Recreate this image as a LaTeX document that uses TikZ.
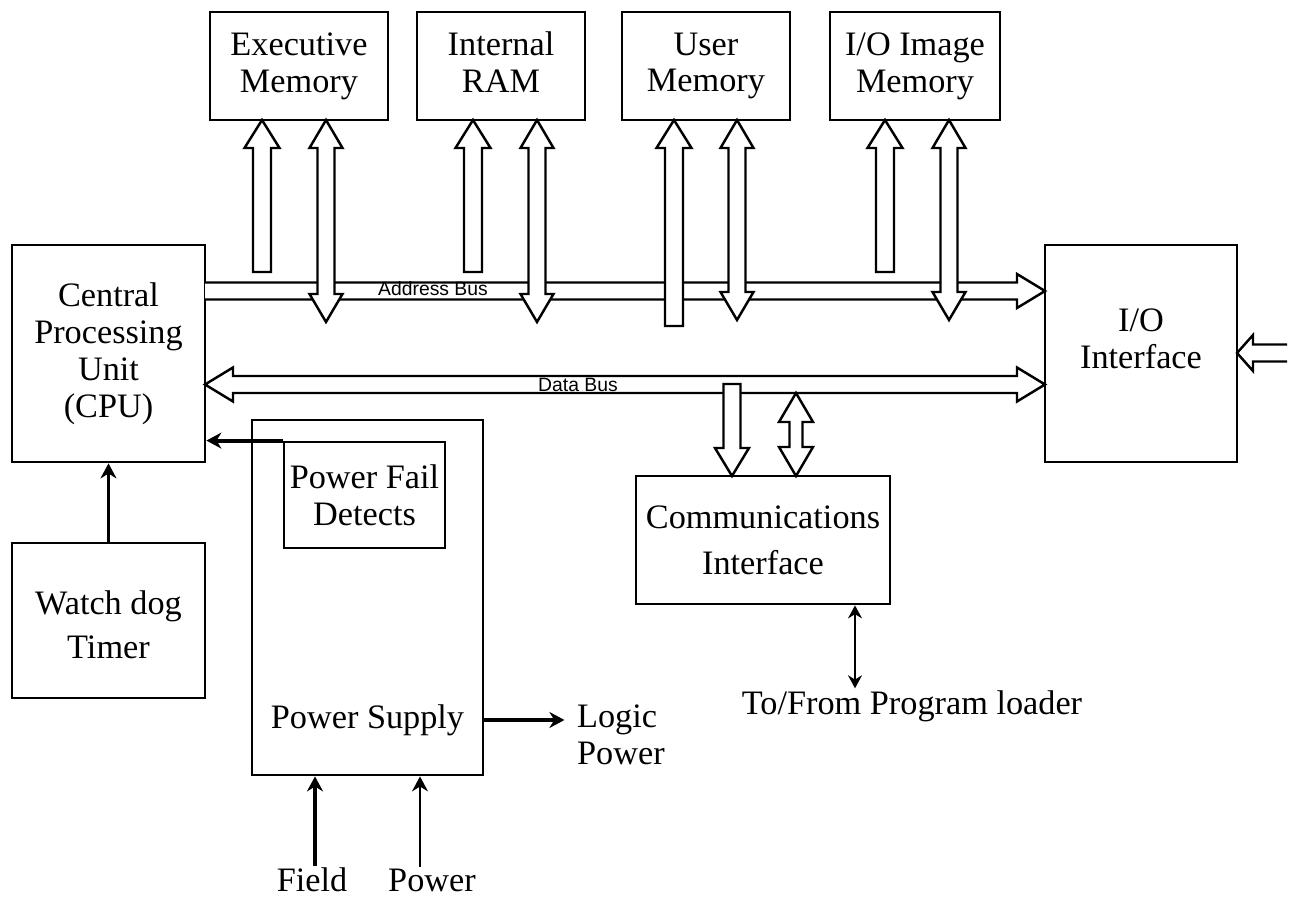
\documentclass[tikz,border=0pt]{standalone}
\usepackage{fontspec}
\setmainfont{Liberation Serif}
\newfontfamily\busfont{Liberation Sans}
\usetikzlibrary{arrows.meta,positioning,calc}

\begin{document}
\begin{tikzpicture} [x=0.2mm,y=-0.2mm,{box/.style={rectangle,draw=black,line width=1.6pt,align=center,inner sep=0pt,font=\fontsize{19.5}{21}\selectfont}},{txt/.style={align=center,inner sep=1pt,font=\fontsize{19.5}{21}\selectfont}},{fat/.style={draw=black,fill=white,line width=1.4pt,line join=miter}},{buslbl/.style={inner sep=0pt,font=\busfont\fontsize{11}{11}\selectfont}},{arr/.style={-{Stealth[length=3mm,width=3.2mm]},line width=2.2pt}}]
		\useasboundingbox (0,0) rectangle (1303,898);
		%%memory blocks
		\node at (299,66) [box,minimum width=35.6mm,minimum height=21.6mm] (exec) {Executive\\Memory};
		\node at (501,66) [box,minimum width=33.6mm,minimum height=21.6mm] (iram) {Internal\\RAM\vphantom{y}};
		\node at (706,66) [box,minimum width=33.6mm,minimum height=21.6mm] (umem) {User\\Memory};
		\node at (915,66) [box,minimum width=34mm,minimum height=21.6mm] (iomem) {I/O Image\\Memory};
		%%main blocks
		\node at (108.5,353.5) [box,minimum width=38.6mm,minimum height=43.4mm] (cpu) {Central\\Processing\\Unit\\(CPU)};
		\node at (1141,353.5) [box,minimum width=38.4mm,minimum height=43.4mm] (ioif) {};
		\node at (108.5,620.5) [box,minimum width=38.6mm,minimum height=31mm] (wdt) {};
		\node at (367.5,597.5) [box,minimum width=46.2mm,minimum height=71mm] (psu) {};
		\node at (364.5,495) [box,minimum width=32.2mm,minimum height=21.2mm] (pfd) {Power Fail\\Detects};
		\node at (763,540) [box,minimum width=50.8mm,minimum height=25.6mm] (comm) {Communications\\[5pt]Interface};
		%%free texts
		\node at (1141,339) [txt] (iotext) {I/O\\Interface};
		\node at (108.5,625) [txt] (wdttext) {Watch dog\\[4pt]Timer};
		\node at (367.5,720) [txt] (psutext) {Power Supply};
		\node at (575,735) [txt,anchor=west,align=left] (logic) {Logic\\Power};
		\node at (312,880) [txt] (field) {Field};
		\node at (432,880) [txt] (power) {Power};
		\node at (912,706) [txt] (loader) {To/From Program loader};
		
		%%address bus
		\draw [fat] (205,282.5) -- (1017,282.5) -- (1017,274) -- (1045,291) -- (1017,308) -- (1017,299.5) -- (205,299.5);
		%%data bus
		\draw [fat] (205,384.5) -- (233,367.5) -- (233,376) -- (1017,376) -- (1017,367.5) -- (1045,384.5) -- (1017,401.5) -- (1017,393) -- (233,393) -- (233,401.5) -- cycle;
		%%memory arrows
		\foreach \x/\yb in {262/272,473/272,674/326,885/272}
			\draw [fat] (\x-9,\yb) -- (\x-9,148) -- (\x-17.5,148) -- (\x,120) -- (\x+17.5,148) -- (\x+9,148) -- (\x+9,\yb) -- cycle;
		\foreach \x/\yb in {326/322,537/322,737/320,949/320}
			\draw [fat] (\x,120) -- (\x+16.5,148) -- (\x+8.5,148) -- (\x+8.5,\yb-28) -- (\x+16.5,\yb-28) -- (\x,\yb) -- (\x-16.5,\yb-28) -- (\x-8.5,\yb-28) -- (\x-8.5,148) -- (\x-16.5,148) -- cycle;
		%%communications arrows
		\draw [fat] (723.5,384) -- (723.5,448) -- (715,448) -- (732,476) -- (749,448) -- (740.5,448) -- (740.5,384) -- cycle;
		\draw [fat] (796,393) -- (813,422) -- (802.5,422) -- (802.5,447) -- (813,447) -- (796,476) -- (779,447) -- (789.5,447) -- (789.5,422) -- (779,422) -- cycle;
		%%field input
		\draw [fat] (1287,344.5) -- (1253,344.5) -- (1253,335) -- (1237,353) -- (1253,371) -- (1253,361.5) -- (1287,361.5);
		%%bus labels
		\node at (433,289) [buslbl] (ablbl) {Address Bus};
		\node at (578,384.5) [buslbl] (dblbl) {Data Bus};
		
		%%signal lines
		\draw [arr] (wdt.north) -- (cpu.south);
		\draw [arr] (pfd.north west) -- (pfd.north west -| cpu.east);
		\draw [arr] (psutext -| psu.east) -- ++(80,0);
		\draw [arr] ([xshift=0.6mm]field.north) -- ([xshift=0.6mm]field.north |- psu.south);
		\draw [arr,line width=1pt] ([xshift=-2.4mm]power.north) -- ([xshift=-2.4mm]power.north |- psu.south);
		\draw [{Stealth[length=2.6mm,width=2.8mm]}-{Stealth[length=2.6mm,width=2.8mm]},line width=1pt] ([xshift=18.4mm]comm.south) -- ([xshift=18.4mm]comm.south |- loader.north);
		
	\end{tikzpicture}
\end{document}
